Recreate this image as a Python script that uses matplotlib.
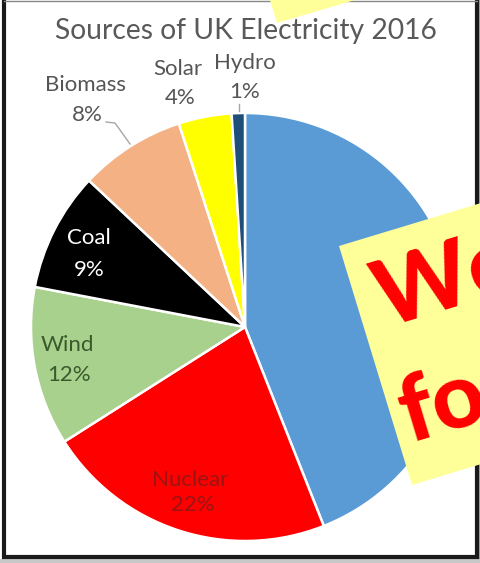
import matplotlib.pyplot as plt
from matplotlib.patches import Polygon, Rectangle

W, H = 481, 563

# electricity mix 2016 (percent), clockwise from 12 o'clock
sources = ['Gas', 'Nuclear', 'Wind', 'Coal', 'Biomass', 'Solar', 'Hydro']
shares = [44, 22, 12, 9, 8, 4, 1]
colors = ['#5B9BD5', '#FF0000', '#A9D18E', '#000000', '#F4B183', '#FFFF00', '#1F4E79']

plt.rcParams['font.family'] = ['Lato', 'DejaVu Sans']

fig = plt.figure(figsize=(W / 100, H / 100), dpi=100)
ax = fig.add_axes([0, 0, 1, 1])


def px(x, y):
    # image pixel coords -> axes coords (y up)
    return x, H - y


cx, cy = px(245, 327)
ax.pie(shares, colors=colors, startangle=90, counterclock=False,
       center=(cx, cy), radius=214,
       wedgeprops=dict(edgecolor='white', linewidth=1.8))
ax.set_xlim(0, W)
ax.set_ylim(0, H)
ax.set_aspect('equal')
ax.axis('off')

ax.text(*px(246, 31), 'Sources of UK Electricity 2016', ha='center', va='center',
        fontsize=20.3, color='#595959')

grey = '#555555'
lab = dict(ha='center', va='center', fontsize=16)
ax.text(*px(245, 63), 'Hydro', color=grey, **lab)
ax.text(*px(245, 92), '1%', color=grey, **lab)
ax.text(*px(178, 69), 'Solar', color=grey, **lab)
ax.text(*px(180, 98), '4%', color=grey, **lab)
ax.text(*px(86, 85), 'Biomass', color=grey, **lab)
ax.text(*px(87, 115), '8%', color=grey, **lab)
ax.text(*px(89, 238), 'Coal', color='white', **lab)
ax.text(*px(89, 270), '9%', color='white', **lab)
ax.text(*px(67, 345), 'Wind', color='#3B5A2B', **lab)
ax.text(*px(69, 375), '12%', color='#3B5A2B', **lab)
ax.text(*px(190, 480), 'Nuclear', color='#9A1414', **lab)
ax.text(*px(193, 505), '22%', color='#9A1414', **lab)

# leader lines
ax.plot(*zip(px(239, 104), px(239, 111)), color='#A6A6A6', lw=1)
ax.plot(*zip(px(106, 122), px(115, 123), px(130, 144)), color='#A6A6A6', lw=1)

# frame with shadow
ax.add_patch(Rectangle(px(478, H), 3, H, facecolor='#A8A8A8', edgecolor='none', zorder=5))
ax.add_patch(Rectangle(px(0, H), W, 4, facecolor='#C8C8C8', edgecolor='none', zorder=5))
ax.plot(*zip(px(4.5, 0), px(4.5, 557.5), px(477, 557.5), px(477, 0)),
        color='#1A1A1A', lw=3, zorder=6, solid_joinstyle='miter')
ax.plot(*zip(px(4.5, 0.5), px(477, 0.5)), color='#888888', lw=1, zorder=6)

# sticky notes
note = '#FFFF99'
ax.add_patch(Polygon([px(277, 23), px(511, -46), px(490, -115), px(256, -46)],
                     closed=True, facecolor=note, edgecolor='none', zorder=7))
tl = (339, 246)
u = (142, -43)
v = (73, 239)
ax.add_patch(Polygon([px(*tl), px(tl[0] + v[0], tl[1] + v[1]),
                      px(tl[0] + v[0] + 2 * u[0], tl[1] + v[1] + 2 * u[1]),
                      px(tl[0] + 2 * u[0], tl[1] + 2 * u[1])],
                     closed=True, facecolor=note, edgecolor='none', zorder=7))
big = dict(color='#FF0000', fontsize=66, fontweight='black', rotation=16.8,
           rotation_mode='anchor', ha='left', va='baseline', zorder=8)
ax.text(*px(384, 328), 'We', **big)
ax.text(*px(409, 444), 'fo', **big)

fig.savefig('out.png', dpi=100)
